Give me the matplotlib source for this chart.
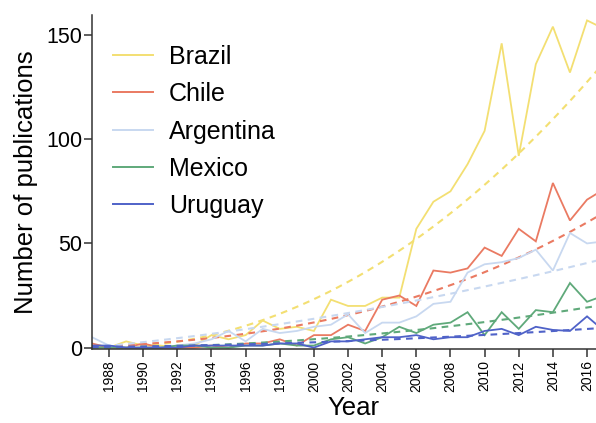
import numpy as np
import matplotlib
matplotlib.use("Agg")
import matplotlib.pyplot as plt

plt.rcParams['font.family'] = ['Liberation Sans', 'DejaVu Sans']

years = list(range(1987, 2018))

brazil = [1, 0, 3, 1, 1, 0, 1, 6, 4, 6, 13, 9, 10, 8, 23, 20, 20, 24, 24, 57,
          70, 75, 88, 104, 146, 92, 136, 154, 132, 157, 153]
chile = [2, 0, 0, 2, 0, 0, 0, 1, 0, 2, 2, 4, 1, 6, 6, 11, 8, 23, 25, 20,
         37, 36, 38, 48, 44, 57, 51, 79, 61, 71, 76]
argentina = [5, 1, 0, 0, 0, 1, 2, 4, 8, 3, 9, 7, 8, 10, 11, 16, 7, 12, 12, 15,
             21, 22, 36, 40, 41, 43, 47, 37, 55, 50, 51]
mexico = [0, 0, 0, 0, 0, 1, 1, 0, 0, 1, 1, 2, 1, 1, 4, 5, 2, 5, 10, 7,
          11, 12, 17, 6, 17, 9, 18, 17, 31, 22, 25]
uruguay = [1, 1, 0, 0, 0, 0, 1, 1, 1, 1, 1, 2, 2, 0, 3, 3, 4, 5, 5, 6,
           4, 5, 5, 8, 9, 6, 10, 8.5, 8, 15, 8]

# growth-trend levels at five-year steps
trend_years = [1987, 1992, 1997, 2002, 2007, 2012, 2017]
brazil_trend = [0.2, 2.7, 13, 32, 58, 93, 137]
chile_trend = [0.5, 2.5, 8, 16, 27, 43, 65]
argentina_trend = [0.5, 3.5, 10.5, 17, 24.5, 32, 43]
mexico_trend = [0, 0.8, 2.5, 5, 9.5, 14.5, 20.5]
uruguay_trend = [0.3, 0.8, 1.8, 3.2, 4.8, 7, 9.5]

countries = ["Brazil", "Chile", "Argentina", "Mexico", "Uruguay"]
series = [brazil, chile, argentina, mexico, uruguay]
trends = [brazil_trend, chile_trend, argentina_trend, mexico_trend, uruguay_trend]
colors = ["#f3df72", "#ea7a62", "#c8d8f0", "#5fa97a", "#4f62c8"]

W, H = 596, 423
fig = plt.figure(figsize=(W / 100, H / 100), dpi=100)

# axes placed in pixel units
left, bottom_px, top_px = 92, 349.3, 15
px_per_year = 17.07
width = px_per_year * 30.6
ax = fig.add_axes([left / W, (H - bottom_px) / H, width / W, (bottom_px - top_px) / H])

x = np.array(years, dtype=float)
tx = np.array(trend_years, dtype=float)
xf = np.linspace(x[0], x[-1], 300)
for name, vals, tr, c in zip(countries, series, trends, colors):
    ax.plot(x, vals, color=c, lw=1.3, label=name, solid_joinstyle='miter')
    coef = np.polyfit(tx - tx[0], tr, 3)
    ax.plot(xf, np.polyval(coef, xf - tx[0]), color=c, lw=1.5, ls=(0, (3.2, 2.6)))

ax.set_xlim(1987, 1987 + 30.6)
ax.set_ylim(-0.8, 159.6)
ax.set_yticks([0, 50, 100, 150])
ax.set_xticks(list(range(1988, 2017, 2)))
ax.tick_params(axis='y', labelsize=15.5, length=6, width=1.1, color='#333333', pad=1)
ax.tick_params(axis='x', labelsize=10, length=6, width=1.1, color='#333333', rotation=90, pad=2)

for s in ['top', 'right']:
    ax.spines[s].set_visible(False)
for s in ['left', 'bottom']:
    ax.spines[s].set_linewidth(1.1)
    ax.spines[s].set_color('#333333')

ax.set_ylabel("Number of publications", fontsize=18.5, labelpad=6)
ax.set_xlabel("Year", fontsize=18.5, labelpad=3)

handles, labels = ax.get_legend_handles_labels()
leg = ax.legend(handles, labels, loc='upper left', frameon=False, fontsize=18,
                handlelength=1.6, handletextpad=0.65, labelspacing=0.53,
                borderaxespad=0, borderpad=0,
                bbox_to_anchor=(113 / W, (H - 45) / H), bbox_transform=fig.transFigure)
for h in leg.get_lines():
    h.set_linewidth(1.4)

fig.savefig("out.png", dpi=100)
